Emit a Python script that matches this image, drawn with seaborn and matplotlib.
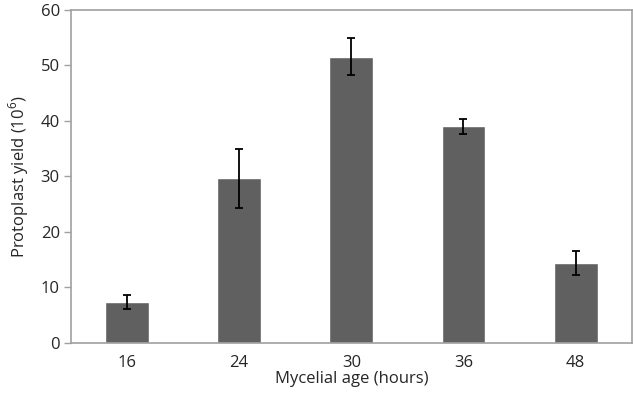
import matplotlib
matplotlib.use('Agg')
import matplotlib.pyplot as plt
import seaborn as sns
import pandas as pd

ages = ['16', '24', '30', '36', '48']
yield_mean = [7.4, 29.7, 51.6, 39.0, 14.4]
yield_err = [1.3, 5.3, 3.4, 1.3, 2.2]

df = pd.DataFrame({'age': ages, 'yield': yield_mean})

sns.set_style('white')
plt.rcParams['font.family'] = ['Open Sans', 'DejaVu Sans']
plt.rcParams['mathtext.fontset'] = 'custom'
plt.rcParams['mathtext.rm'] = 'Open Sans'

fig = plt.figure(figsize=(6.33, 3.96), dpi=100)
ax = fig.add_axes([0.112, 0.134, 0.886, 0.841])

sns.barplot(data=df, x='age', y='yield', color='#606060', saturation=1,
            width=0.39, ax=ax)
ax.errorbar(range(len(ages)), yield_mean, yerr=yield_err, fmt='none',
            ecolor='black', elinewidth=1.3, capsize=3.2, capthick=1.3)

ax.set_ylim(0, 60)
ax.set_yticks(range(0, 61, 10))
ax.set_xlim(-0.5, 4.5)
for s in ax.spines.values():
    s.set_color('#a0a0a0')
    s.set_linewidth(1.2)
ax.tick_params(axis='y', left=True, length=5, width=1, color='#a0a0a0',
               labelsize=12, pad=3)
ax.tick_params(axis='x', bottom=False, labelsize=12, pad=5)
ax.set_xlabel('Mycelial age (hours)', fontsize=12, labelpad=0)
ax.set_ylabel('Protoplast yield (10$^{6}$)', fontsize=12, labelpad=7)

fig.savefig('out.png', dpi=100)
